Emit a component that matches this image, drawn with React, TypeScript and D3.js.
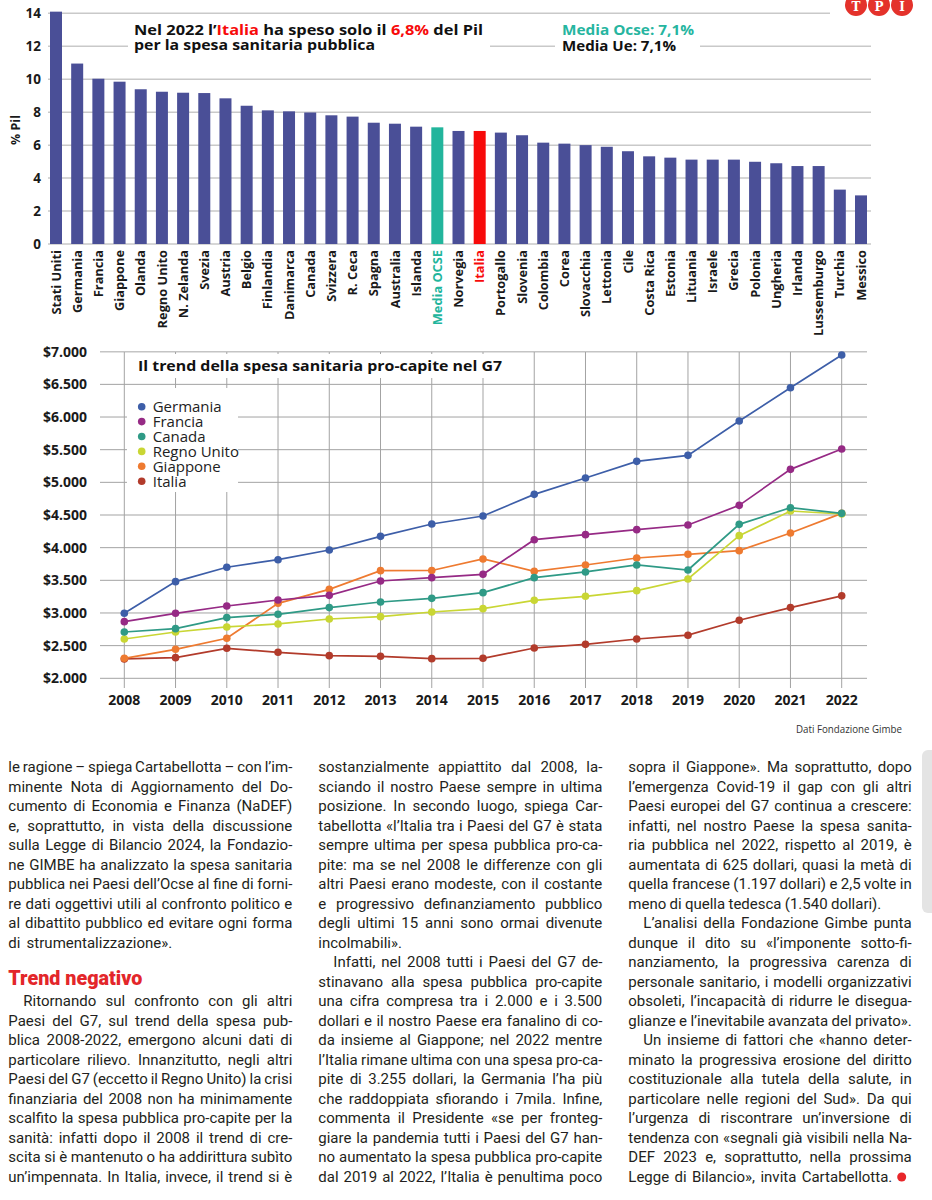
import React, { useLayoutEffect, useRef } from "react";
import * as d3 from "d3";

// ---------- Bar chart data ----------
const countries = ["Stati Uniti","Germania","Francia","Giappone","Olanda","Regno Unito","N. Zelanda","Svezia","Austria","Belgio","Finlandia","Danimarca","Canada","Svizzera","R. Ceca","Spagna","Australia","Islanda","Media OCSE","Norvegia","Italia","Portogallo","Slovenia","Colombia","Corea","Slovacchia","Lettonia","Cile","Costa Rica","Estonia","Lituania","Israele","Grecia","Polonia","Ungheria","Irlanda","Lussemburgo","Turchia","Messico"];
const pilValues = [14.1,10.95,10.03,9.85,9.39,9.24,9.18,9.16,8.84,8.39,8.11,8.05,7.98,7.81,7.73,7.36,7.3,7.12,7.08,6.86,6.86,6.76,6.6,6.15,6.09,6.0,5.9,5.63,5.32,5.24,5.12,5.12,5.12,4.99,4.9,4.73,4.73,3.3,2.95];
const pilTicks = [0, 2, 4, 6, 8, 10, 12, 14];

// ---------- Line chart data ----------
const years = [2008,2009,2010,2011,2012,2013,2014,2015,2016,2017,2018,2019,2020,2021,2022];
const germania = [2995,3480,3700,3816,3964,4173,4362,4485,4816,5066,5321,5413,5939,6449,6949];
const francia = [2867,2995,3107,3199,3270,3490,3541,3592,4122,4199,4276,4347,4648,5199,5510];
const canada = [2709,2760,2929,2980,3082,3168,3224,3311,3541,3628,3735,3658,4357,4612,4525];
const regnoUnito = [2602,2709,2786,2832,2908,2944,3015,3066,3194,3255,3342,3520,4184,4561,4515];
const giappone = [2306,2444,2612,3148,3362,3648,3650,3827,3638,3735,3842,3898,3954,4224,4525];
const italia = [2296,2316,2459,2398,2347,2337,2301,2306,2464,2520,2602,2660,2888,3082,3262];
const seriesNames = ["Germania","Francia","Canada","Regno Unito","Giappone","Italia"];
const seriesColors = ["#3d5ea8","#962a85","#2f9a86","#c9d634","#ee7a30","#b23b2b"];
const seriesValues = [germania, francia, canada, regnoUnito, giappone, italia];
const dollarTicks = [2000,2500,3000,3500,4000,4500,5000,5500,6000,6500,7000];

// ---------- Article text ----------
type Line = { t: string; indent?: boolean; w?: number } | null;
const col1: Line[] = [
  { t: "le ragione – spiega Cartabellotta – con l’im-" },
  { t: "minente Nota di Aggiornamento del Do-" },
  { t: "cumento di Economia e Finanza (NaDEF)" },
  { t: "e, soprattutto, in vista della discussione" },
  { t: "sulla Legge di Bilancio 2024, la Fondazio-" },
  { t: "ne GIMBE ha analizzato la spesa sanitaria" },
  { t: "pubblica nei Paesi dell’Ocse al fine di forni-" },
  { t: "re dati oggettivi utili al confronto politico e" },
  { t: "al dibattito pubblico ed evitare ogni forma" },
  { t: "di strumentalizzazione».", w: 164 },
  null,
  null,
  { t: "Ritornando sul confronto con gli altri", indent: true },
  { t: "Paesi del G7, sul trend della spesa pub-" },
  { t: "blica 2008-2022, emergono alcuni dati di" },
  { t: "particolare rilievo. Innanzitutto, negli altri" },
  { t: "Paesi del G7 (eccetto il Regno Unito) la crisi" },
  { t: "finanziaria del 2008 non ha minimamente" },
  { t: "scalfito la spesa pubblica pro-capite per la" },
  { t: "sanità: infatti dopo il 2008 il trend di cre-" },
  { t: "scita si è mantenuto o ha addirittura subìto" },
  { t: "un’impennata. In Italia, invece, il trend si è" },
];
const col2: Line[] = [
  { t: "sostanzialmente appiattito dal 2008, la-" },
  { t: "sciando il nostro Paese sempre in ultima" },
  { t: "posizione. In secondo luogo, spiega Car-" },
  { t: "tabellotta «l’Italia tra i Paesi del G7 è stata" },
  { t: "sempre ultima per spesa pubblica pro-ca-" },
  { t: "pite: ma se nel 2008 le differenze con gli" },
  { t: "altri Paesi erano modeste, con il costante" },
  { t: "e progressivo definanziamento pubblico" },
  { t: "degli ultimi 15 anni sono ormai divenute" },
  { t: "incolmabili».", w: 82 },
  { t: "Infatti, nel 2008 tutti i Paesi del G7 de-", indent: true },
  { t: "stinavano alla spesa pubblica pro-capite" },
  { t: "una cifra compresa tra i 2.000 e i 3.500" },
  { t: "dollari e il nostro Paese era fanalino di co-" },
  { t: "da insieme al Giappone; nel 2022 mentre" },
  { t: "l’Italia rimane ultima con una spesa pro-ca-" },
  { t: "pite di 3.255 dollari, la Germania l’ha più" },
  { t: "che raddoppiata sfiorando i 7mila. Infine," },
  { t: "commenta il Presidente «se per fronteg-" },
  { t: "giare la pandemia tutti i Paesi del G7 han-" },
  { t: "no aumentato la spesa pubblica pro-capite" },
  { t: "dal 2019 al 2022, l’Italia è penultima poco" },
];
const col3: Line[] = [
  { t: "sopra il Giappone». Ma soprattutto, dopo" },
  { t: "l’emergenza Covid-19 il gap con gli altri" },
  { t: "Paesi europei del G7 continua a crescere:" },
  { t: "infatti, nel nostro Paese la spesa sanita-" },
  { t: "ria pubblica nel 2022, rispetto al 2019, è" },
  { t: "aumentata di 625 dollari, quasi la metà di" },
  { t: "quella francese (1.197 dollari) e 2,5 volte in" },
  { t: "meno di quella tedesca (1.540 dollari).", w: 253 },
  { t: "L’analisi della Fondazione Gimbe punta", indent: true },
  { t: "dunque il dito su «l’imponente sotto-fi-" },
  { t: "nanziamento, la progressiva carenza di" },
  { t: "personale sanitario, i modelli organizzativi" },
  { t: "obsoleti, l’incapacità di ridurre le disegua-" },
  { t: "glianze e l’inevitabile avanzata del privato»." },
  { t: "Un insieme di fattori che «hanno deter-", indent: true },
  { t: "minato la progressiva erosione del diritto" },
  { t: "costituzionale alla tutela della salute, in" },
  { t: "particolare nelle regioni del Sud». Da qui" },
  { t: "l’urgenza di riscontrare un’inversione di" },
  { t: "tendenza con «segnali già visibili nella Na-" },
  { t: "DEF 2023 e, soprattutto, nella prossima" },
  { t: "Legge di Bilancio», invita Cartabellotta.", w: 264 },
];

const CHART_FONT = "'Open Sans', 'DejaVu Sans', sans-serif";
const TEXT_FONT = "Roboto, 'Liberation Sans', sans-serif";

export default function App() {
  const ref = useRef<SVGSVGElement>(null);

  useLayoutEffect(() => {
    const svg = ref.current;
    if (!svg) return;
    svg.querySelectorAll<SVGTextElement>("text[data-jw]").forEach((t) => {
      t.removeAttribute("word-spacing");
      const target = +(t.getAttribute("data-jw") || 0);
      const w = t.getComputedTextLength();
      const n = (t.textContent || "").split(" ").length - 1;
      if (n > 0) t.setAttribute("word-spacing", String((target - w) / n));
    });
  }, []);

  // Bar chart scales
  const xb = d3.scalePoint<string>().domain(countries).range([56, 861]);
  const yb = d3.scaleLinear().domain([0, 14]).range([244, 13.3]);
  const barW = 12;

  // Line chart scales
  const xl = d3.scaleLinear().domain([2008, 2022]).range([124.3, 841.7]);
  const yl = d3.scaleLinear().domain([2000, 7000]).range([678.3, 351.7]);
  const fmt = d3.formatLocale({ decimal: ",", thousands: ".", grouping: [3], currency: ["$", ""] }).format("$,");
  const lineGen = d3
    .line<number>()
    .x((_, i) => xl(years[i]))
    .y((d) => yl(d));

  const barColor = (c: string) => (c === "Media OCSE" ? "#22b59c" : c === "Italia" ? "#f70a0a" : "#4a4f97");
  const labelColor = (c: string) => (c === "Media OCSE" ? "#22b59c" : c === "Italia" ? "#f70a0a" : "#1a1a1a");

  const cols = [
    { x: 8.3, w: 284, lines: col1 },
    { x: 318.3, w: 284, lines: col2 },
    { x: 628.3, w: 283.4, lines: col3 },
  ];
  const lineY = (i: number) => 772 + i * 19.52;

  const drawOrder = [5, 4, 3, 2, 1, 0];

  return (
    <svg
      ref={ref}
      width={932}
      height={1200}
      style={{ position: "absolute", left: 0, top: 0, background: "#fff", display: "block" }}
    >
      <rect x={0} y={0} width={932} height={1200} fill="#fff" />

      {/* ================= BAR CHART ================= */}
      <g>
        {pilTicks.map((t) => (
          <line
            key={t}
            x1={48}
            x2={t === 14 ? 830 : 871}
            y1={yb(t)}
            y2={yb(t)}
            stroke="#c9c9c9"
            strokeWidth={1.5}
          />
        ))}
        {pilTicks.map((t) => (
          <text
            key={t}
            x={41}
            y={yb(t) + 5}
            textAnchor="end"
            fontFamily={CHART_FONT}
            fontWeight={700}
            fontSize={13.5}
            fill="#1a1a1a"
          >
            {t}
          </text>
        ))}
        <text
          transform="translate(20,130) rotate(-90)"
          textAnchor="middle"
          fontFamily={CHART_FONT}
          fontWeight={700}
          fontSize={12.5}
          fill="#1a1a1a"
        >
          % Pil
        </text>
        {countries.map((c, i) => (
          <rect
            key={c}
            x={(xb(c) as number) - barW / 2}
            y={yb(pilValues[i])}
            width={barW}
            height={yb(0) - yb(pilValues[i])}
            fill={barColor(c)}
          />
        ))}
        {countries.map((c) => (
          <text
            key={c}
            transform={`translate(${(xb(c) as number) + 4.6},250) rotate(-90)`}
            textAnchor="end"
            fontFamily={CHART_FONT}
            fontWeight={700}
            fontSize={12.8}
            fill={labelColor(c)}
          >
            {c}
          </text>
        ))}

        {/* title boxes */}
        <rect x={128} y={19} width={362} height={37} fill="#fff" />
        <rect x={555} y={19} width={145} height={37} fill="#fff" />
        <text x={134} y={34.5} fontFamily={CHART_FONT} fontWeight={700} fontSize={15} fill="#111" textLength={349} lengthAdjust="spacingAndGlyphs">
          Nel 2022 l’<tspan fill="#f70a0a">Italia</tspan> ha speso solo il <tspan fill="#f70a0a">6,8%</tspan> del Pil
        </text>
        <text x={134} y={50} fontFamily={CHART_FONT} fontWeight={700} fontSize={15} fill="#111" textLength={241} lengthAdjust="spacingAndGlyphs">
          per la spesa sanitaria pubblica
        </text>
        <text x={562} y={34.5} fontFamily={CHART_FONT} fontWeight={700} fontSize={15} fill="#26b5a0" textLength={132} lengthAdjust="spacingAndGlyphs">
          Media Ocse: 7,1%
        </text>
        <text x={562} y={50.5} fontFamily={CHART_FONT} fontWeight={700} fontSize={15} fill="#111" textLength={114} lengthAdjust="spacingAndGlyphs">
          Media Ue: 7,1%
        </text>

        {/* TPI logo */}
        {["T", "P", "I"].map((l, i) => (
          <g key={l}>
            <circle cx={856 + i * 23} cy={5} r={11} fill="#e4322b" />
            <text
              x={856 + i * 23}
              y={11}
              textAnchor="middle"
              fontFamily="'DejaVu Serif', 'Liberation Serif', serif"
              fontWeight={700}
              fontSize={12}
              fill="#fff"
            >
              {l}
            </text>
          </g>
        ))}
      </g>

      {/* ================= LINE CHART ================= */}
      <g>
        {dollarTicks.map((t) => (
          <line key={t} x1={100} x2={867} y1={yl(t)} y2={yl(t)} stroke={t === 7000 ? "#c4c4c4" : "#a3a3a3"} strokeWidth={t === 7000 ? 1.5 : 1} />
        ))}
        {years.map((yr) => (
          <line key={yr} x1={xl(yr)} x2={xl(yr)} y1={352} y2={688} stroke="#a3a3a3" strokeWidth={1} />
        ))}
        {dollarTicks.map((t) => (
          <text
            key={t}
            x={87}
            y={yl(t) + 5}
            textAnchor="end"
            fontFamily={CHART_FONT}
            fontWeight={700}
            fontSize={14}
            fill="#1a1a1a"
          >
            {fmt(t)}
          </text>
        ))}
        {years.map((yr) => (
          <text
            key={yr}
            x={xl(yr)}
            y={705}
            textAnchor="middle"
            fontFamily={CHART_FONT}
            fontWeight={700}
            fontSize={14}
            fill="#1a1a1a"
          >
            {yr}
          </text>
        ))}

        {/* title box */}
        <rect x={130} y={354} width={372} height={24} fill="#fff" />
        <text x={138} y={370.5} fontFamily={CHART_FONT} fontWeight={700} fontSize={15} fill="#111" textLength={364} lengthAdjust="spacingAndGlyphs">
          Il trend della spesa sanitaria pro-capite nel G7
        </text>

        {/* legend box */}
        <rect x={127} y={388} width={111} height={104} fill="#fff" />
        {seriesNames.map((n, i) => (
          <g key={n}>
            <circle cx={141.7} cy={406.7 + i * 14.9} r={3.8} fill={seriesColors[i]} />
            <text
              x={152.7}
              y={406.7 + i * 14.9}
              dy="0.36em"
              fontFamily={CHART_FONT}
              fontSize={15}
              fill="#222"
            >
              {n}
            </text>
          </g>
        ))}

        {drawOrder.map((si) => (
          <g key={seriesNames[si]}>
            <path d={lineGen(seriesValues[si]) || ""} fill="none" stroke={seriesColors[si]} strokeWidth={1.7} />
            {seriesValues[si].map((v, i) => (
              <circle key={i} cx={xl(years[i])} cy={yl(v)} r={3.8} fill={seriesColors[si]} />
            ))}
          </g>
        ))}

        <text x={796} y={732.5} fontFamily={CHART_FONT} fontSize={10.5} fill="#333" textLength={106} lengthAdjust="spacingAndGlyphs">
          Dati Fondazione Gimbe
        </text>
      </g>

      {/* ================= ARTICLE ================= */}
      <g fontFamily={TEXT_FONT} fontSize={15} fill="#231f20">
        {cols.map((col, ci) =>
          col.lines.map((ln, i) => {
            if (!ln) return null;
            const ind = ln.indent ? 15 : 0;
            const target = ln.w !== undefined ? ln.w : col.w - ind;
            return (
              <text key={`${ci}-${i}`} x={col.x + ind} y={lineY(i)} data-jw={target}>
                {ln.t}
              </text>
            );
          })
        )}
        <text
          x={8.3}
          y={985}
          fontFamily={TEXT_FONT}
          fontWeight={900}
          fontSize={20}
          fill="#e3262a"
          textLength={134}
          lengthAdjust="spacingAndGlyphs"
        >
          Trend negativo
        </text>
        <circle cx={901.7} cy={1177} r={4.5} fill="#e8262a" />
      </g>

      {/* right gray tab */}
      <rect x={922} y={750} width={20} height={163} rx={6} fill="#e4e4e4" />
    </svg>
  );
}
